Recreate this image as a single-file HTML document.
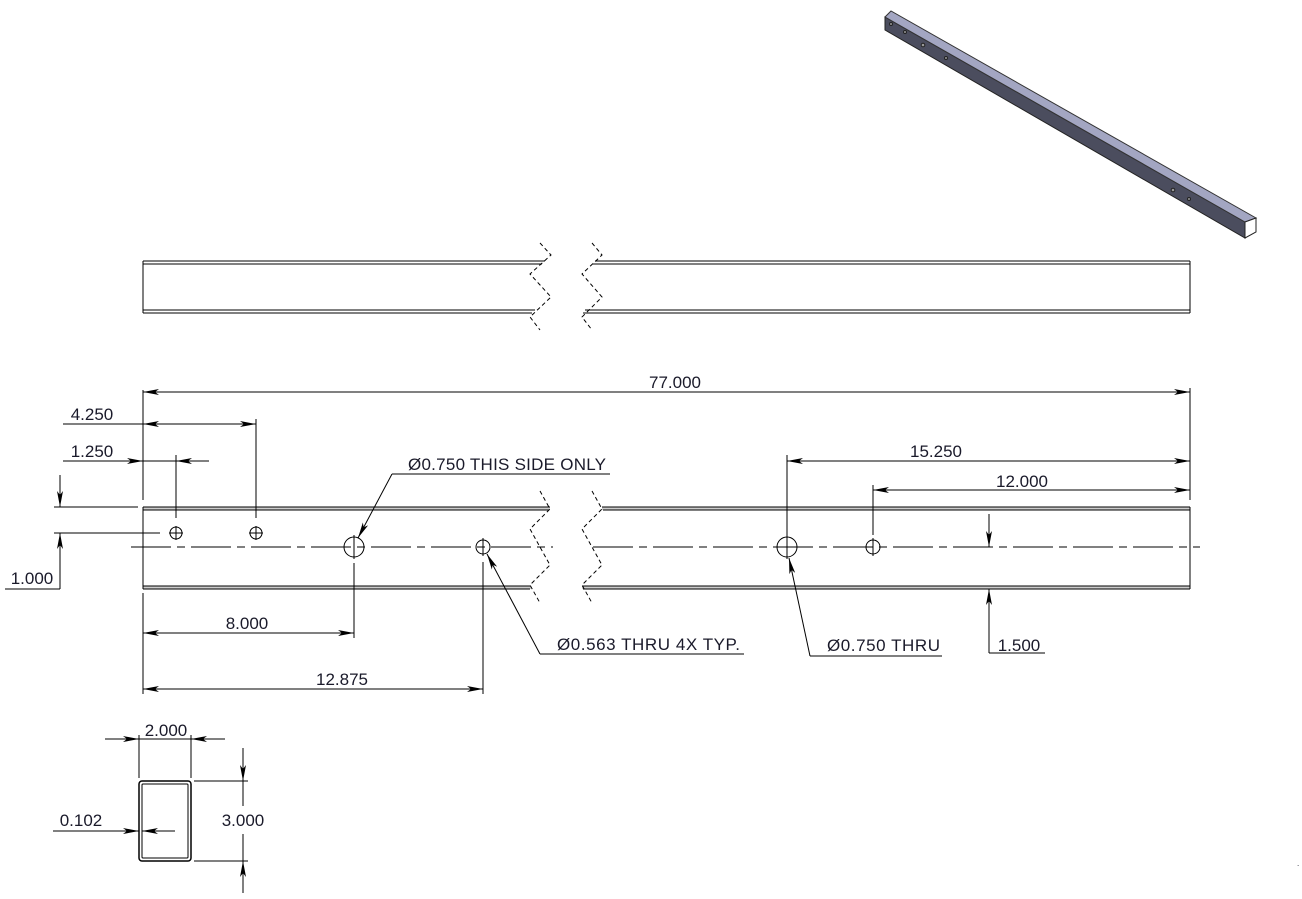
<!DOCTYPE html>
<html><head><meta charset="utf-8"><style>
html,body{margin:0;padding:0;background:#fff;}
svg{display:block;}
text{font-family:"Liberation Sans",sans-serif;font-size:17px;fill:#1a1a2a;}
</style></head><body>
<svg width="1302" height="899" viewBox="0 0 1302 899" xmlns="http://www.w3.org/2000/svg">
<defs>
<marker id="a" viewBox="0 0 16 6" refX="16" refY="3" markerWidth="16" markerHeight="6" markerUnits="userSpaceOnUse" orient="auto-start-reverse">
<path d="M0,0 L16,3 L0,6 L4,3 Z" fill="#000"/>
</marker>
</defs>
<g stroke="#000" fill="none" stroke-width="1">
<polygon points="885,17 1245,222 1245,238 885,30" fill="#4b4d5e" stroke="#222"/>
<polygon points="885,17 891,11 1256,218 1245,222" fill="#a3a6c2" stroke="#333"/>
<polygon points="1245,222 1256,218 1256,232 1245,238" fill="#fff" stroke="#222"/>
<circle cx="891" cy="24" r="1.5" fill="#999" stroke="#222"/>
<circle cx="905" cy="32" r="1.5" fill="#999" stroke="#222"/>
<circle cx="923" cy="45" r="1.8" fill="#999" stroke="#222"/>
<circle cx="946" cy="58" r="1.5" fill="#999" stroke="#222"/>
<circle cx="1173" cy="190" r="1.8" fill="#999" stroke="#222"/>
<circle cx="1189" cy="199" r="1.5" fill="#999" stroke="#222"/>

<line x1="143" y1="261" x2="545" y2="261"/><line x1="143" y1="264" x2="542" y2="264"/>
<line x1="143" y1="310" x2="535" y2="310"/><line x1="143" y1="313" x2="532" y2="313"/>
<line x1="143" y1="261" x2="143" y2="313"/>
<line x1="595" y1="261" x2="1190" y2="261"/><line x1="593" y1="264" x2="1190" y2="264"/>
<line x1="585" y1="310" x2="1190" y2="310"/><line x1="583" y1="313" x2="1190" y2="313"/>
<line x1="1190" y1="261" x2="1190" y2="313"/>
<polyline stroke-dasharray="4,3" points="540,243 551,255 530,274 551,297 530,317 540,330"/>
<polyline stroke-dasharray="4,3" points="592,243 602,255 582,274 602,297 582,317 592,330"/>

<rect x="143" y="507" width="407" height="3" fill="#ccc" stroke="none"/>
<rect x="602" y="507" width="588" height="3" fill="#ccc" stroke="none"/>
<rect x="143" y="586" width="388" height="3" fill="#ccc" stroke="none"/>
<rect x="582" y="586" width="608" height="3" fill="#ccc" stroke="none"/>
<line x1="143" y1="507" x2="550" y2="507"/><line x1="143" y1="510" x2="549" y2="510"/>
<line x1="143" y1="586" x2="531" y2="586"/><line x1="143" y1="589" x2="530" y2="589"/>
<line x1="143" y1="507" x2="143" y2="589"/>
<line x1="602" y1="507" x2="1190" y2="507"/><line x1="603" y1="510" x2="1190" y2="510"/>
<line x1="582" y1="586" x2="1190" y2="586"/><line x1="583" y1="589" x2="1190" y2="589"/>
<line x1="1190" y1="507" x2="1190" y2="589"/>
<polyline stroke-dasharray="4,3" points="540,491 550,509 530,529 550,565 530,585 540,603"/>
<polyline stroke-dasharray="4,3" points="592,491 602,509 582,529 602,565 582,585 592,603"/>
<line x1="131" y1="547" x2="553" y2="547" stroke-dasharray="40,6,8,6"/>
<line x1="593" y1="547" x2="1200" y2="547" stroke-dasharray="40,6,8,6"/>
<circle cx="176" cy="533" r="6"/><line x1="169" y1="533" x2="183" y2="533"/><line x1="176" y1="526" x2="176" y2="540"/>
<circle cx="256" cy="533" r="6"/><line x1="249" y1="533" x2="263" y2="533"/><line x1="256" y1="526" x2="256" y2="540"/>
<circle cx="354" cy="547" r="10"/><line x1="354" y1="535" x2="354" y2="559"/>
<circle cx="483" cy="547" r="7"/><line x1="483" y1="538" x2="483" y2="556"/>
<circle cx="787" cy="547" r="10"/><line x1="787" y1="535" x2="787" y2="559"/>
<circle cx="873" cy="547" r="7"/><line x1="873" y1="538" x2="873" y2="556"/>

<line x1="143" y1="390" x2="143" y2="500"/><line x1="1190" y1="388" x2="1190" y2="500"/>
<line x1="143" y1="392" x2="1190" y2="392" marker-start="url(#a)" marker-end="url(#a)"/>
<line x1="63" y1="424" x2="143" y2="424"/>
<line x1="143" y1="424" x2="256" y2="424" marker-start="url(#a)" marker-end="url(#a)"/>
<line x1="256" y1="419" x2="256" y2="518"/>
<line x1="63" y1="461" x2="143" y2="461" marker-end="url(#a)"/>
<line x1="209" y1="461" x2="176" y2="461" marker-end="url(#a)"/>
<line x1="143" y1="461" x2="176" y2="461"/>
<line x1="176" y1="455" x2="176" y2="518"/>
<line x1="54" y1="507" x2="138" y2="507"/><line x1="54" y1="533" x2="160" y2="533"/>
<line x1="60" y1="475" x2="60" y2="507" marker-end="url(#a)"/>
<line x1="60" y1="589" x2="60" y2="533" marker-end="url(#a)"/>
<line x1="5" y1="589" x2="60" y2="589"/>
<line x1="143" y1="593" x2="143" y2="694"/>
<line x1="354" y1="563" x2="354" y2="638"/>
<line x1="483" y1="562" x2="483" y2="694"/>
<line x1="143" y1="633" x2="354" y2="633" marker-start="url(#a)" marker-end="url(#a)"/>
<line x1="143" y1="689" x2="483" y2="689" marker-start="url(#a)" marker-end="url(#a)"/>
<line x1="787" y1="455" x2="787" y2="535"/>
<line x1="873" y1="485" x2="873" y2="535"/>
<line x1="787" y1="461" x2="1190" y2="461" marker-start="url(#a)" marker-end="url(#a)"/>
<line x1="873" y1="490" x2="1190" y2="490" marker-start="url(#a)" marker-end="url(#a)"/>
<line x1="989" y1="514" x2="989" y2="547" marker-end="url(#a)"/>
<line x1="989" y1="653" x2="989" y2="589" marker-end="url(#a)"/>
<line x1="989" y1="653" x2="1045" y2="653"/>
<line x1="392" y1="474" x2="610" y2="474"/>
<line x1="392" y1="474" x2="358" y2="538" marker-end="url(#a)"/>
<line x1="540" y1="654" x2="744" y2="654"/>
<line x1="540" y1="654" x2="487" y2="554" marker-end="url(#a)"/>
<line x1="810" y1="656" x2="942" y2="656"/>
<line x1="810" y1="656" x2="789" y2="558" marker-end="url(#a)"/>

<rect x="139" y="781" width="52" height="80" rx="3" stroke-width="1.5"/>
<rect x="142" y="784" width="46" height="74" rx="1"/>
<line x1="139" y1="735" x2="139" y2="778"/><line x1="191" y1="735" x2="191" y2="778"/>
<line x1="105" y1="739" x2="139" y2="739" marker-end="url(#a)"/>
<line x1="225" y1="739" x2="191" y2="739" marker-end="url(#a)"/>
<line x1="139" y1="739" x2="191" y2="739"/>
<line x1="194" y1="781" x2="248" y2="781"/><line x1="194" y1="861" x2="248" y2="861"/>
<line x1="243" y1="748" x2="243" y2="781" marker-end="url(#a)"/>
<line x1="243" y1="893" x2="243" y2="861" marker-end="url(#a)"/>
<line x1="243" y1="781" x2="243" y2="806"/><line x1="243" y1="834" x2="243" y2="861"/>
<line x1="53" y1="831" x2="139" y2="831" marker-end="url(#a)"/>
<line x1="175" y1="831" x2="142" y2="831" marker-end="url(#a)"/>
</g>
<g>
<text x="675" y="388" text-anchor="middle">77.000</text>
<text x="92" y="420" text-anchor="middle">4.250</text>
<text x="92" y="457" text-anchor="middle">1.250</text>
<text x="32" y="584" text-anchor="middle">1.000</text>
<text x="247" y="629" text-anchor="middle">8.000</text>
<text x="342" y="685" text-anchor="middle">12.875</text>
<text x="936" y="457" text-anchor="middle">15.250</text>
<text x="1022" y="487" text-anchor="middle">12.000</text>
<text x="1019" y="651" text-anchor="middle">1.500</text>
<text x="408" y="470" textLength="198">Ø0.750 THIS SIDE ONLY</text>
<text x="557" y="650" textLength="183">Ø0.563 THRU 4X TYP.</text>
<text x="827" y="651" textLength="113">Ø0.750 THRU</text>
<text x="166" y="736" text-anchor="middle">2.000</text>
<text x="243" y="826" text-anchor="middle">3.000</text>
<text x="81" y="826" text-anchor="middle">0.102</text>
<text x="1297" y="866" style="font-size:8px">.</text>
</g>
</svg>
</body></html>
